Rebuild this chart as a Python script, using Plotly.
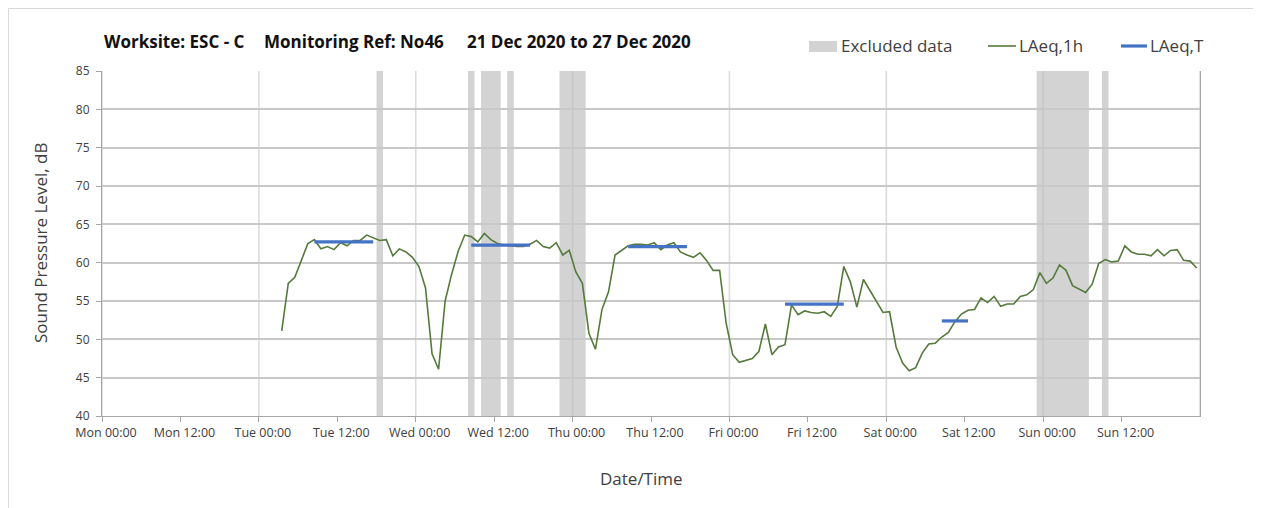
import pandas as pd
import plotly.graph_objects as go

# ---------------- data ----------------
laeq_1h_start = "2020-12-22 03:30"   # first hourly value (hour mid-points)
laeq_1h = [
    51.1, 57.3, 58.1, 60.3, 62.5, 63.0, 61.8, 62.1, 61.7, 62.6,
    62.2, 62.9, 62.9, 63.6, 63.3, 62.9, 63.0, 60.9, 61.8, 61.4,
    60.7, 59.5, 56.7, 48.1, 46.1, 55.0, 58.5, 61.5, 63.6, 63.4,
    62.7, 63.8, 63.0, 62.5, 62.3, 62.2, 62.1, 62.1, 62.4, 62.9,
    62.1, 61.9, 62.6, 61.0, 61.6, 58.8, 57.3, 50.8, 48.7, 53.9,
    56.2, 61.0, 61.6, 62.2, 62.4, 62.4, 62.3, 62.6, 61.7, 62.3,
    62.6, 61.4, 61.0, 60.7, 61.3, 60.3, 59.0, 59.0, 52.1, 48.0,
    47.0, 47.3, 47.5, 48.4, 52.0, 48.0, 49.0, 49.3, 54.5, 53.2,
    53.7, 53.5, 53.4, 53.6, 53.0, 54.3, 59.5, 57.5, 54.2, 57.8,
    56.4, 54.9, 53.5, 53.6, 49.0, 46.9, 45.9, 46.3, 48.2, 49.4,
    49.5, 50.3, 50.9, 52.3, 53.3, 53.8, 53.9, 55.4, 54.8, 55.6,
    54.3, 54.6, 54.6, 55.6, 55.8, 56.5, 58.7, 57.3, 58.0, 59.7,
    59.0, 57.0, 56.5, 56.1, 57.2, 59.9, 60.4, 60.1, 60.2, 62.2,
    61.4, 61.1, 61.1, 60.9, 61.7, 60.9, 61.6, 61.7, 60.3, 60.2,
    59.3,
]
laeq_1h_times = pd.date_range(laeq_1h_start, periods=len(laeq_1h), freq="h")

laeq_t_start = ["2020-12-22 08:30", "2020-12-23 08:30", "2020-12-24 08:30",
                "2020-12-25 08:30", "2020-12-26 08:30"]
laeq_t_end = ["2020-12-22 17:30", "2020-12-23 17:30", "2020-12-24 17:30",
              "2020-12-25 17:30", "2020-12-26 12:30"]
laeq_t_value = [62.7, 62.3, 62.1, 54.6, 52.4]

excluded_start = ["2020-12-22 18:00", "2020-12-23 08:00", "2020-12-23 10:00",
                  "2020-12-23 14:00", "2020-12-23 22:00", "2020-12-26 23:00",
                  "2020-12-27 09:00"]
excluded_end = ["2020-12-22 19:00", "2020-12-23 09:00", "2020-12-23 13:00",
                "2020-12-23 15:00", "2020-12-24 02:00", "2020-12-27 07:00",
                "2020-12-27 10:00"]

tick_values = pd.date_range("2020-12-21 00:00", "2020-12-27 12:00", freq="12h")
tick_labels = ["Mon 00:00", "Mon 12:00", "Tue 00:00", "Tue 12:00", "Wed 00:00",
               "Wed 12:00", "Thu 00:00", "Thu 12:00", "Fri 00:00", "Fri 12:00",
               "Sat 00:00", "Sat 12:00", "Sun 00:00", "Sun 12:00"]
day_lines = pd.date_range("2020-12-21", "2020-12-28", freq="D")

title_parts = ["Worksite: ESC - C", "Monitoring Ref: No46", "21 Dec 2020 to 27 Dec 2020"]

x_range = ["2020-12-21 00:00", "2020-12-28 00:00"]
y_range = [40, 85]

# ---------------- style ----------------
FONT = "Open Sans"
GREEN = "#557a3b"
BLUE = "#4472c4"
BAND = "#d3d3d3"
TXT = "#404040"

# page has an 8px body margin, so the figure is 8px smaller than the window
W, H = 1253, 500
L, R, T, B = 94, 61, 63, 92
PW, PH = W - L - R, H - T - B
OFF = 8


def px(xr):  # window pixel -> paper
    return (xr - OFF - L) / PW


def py(yr):
    return (H - B - (yr - OFF)) / PH


fig = go.Figure()

fig.add_trace(go.Scatter(
    x=laeq_1h_times, y=laeq_1h, mode="lines", name="LAeq,1h",
    line=dict(color=GREEN, width=1.6), showlegend=False))

seg_x, seg_y = [], []
for s, e, v in zip(laeq_t_start, laeq_t_end, laeq_t_value):
    seg_x += [s, e, None]
    seg_y += [v, v, None]
fig.add_trace(go.Scatter(
    x=seg_x, y=seg_y, mode="lines", name="LAeq,T",
    line=dict(color=BLUE, width=3.2), showlegend=False))

shapes = []
for s, e in zip(excluded_start, excluded_end):
    shapes.append(dict(type="rect", xref="x", yref="paper", x0=s, x1=e, y0=0, y1=1,
                       fillcolor=BAND, line=dict(width=0), layer="below"))
for d in day_lines:
    shapes.append(dict(type="line", xref="x", yref="paper", x0=d, x1=d, y0=0, y1=1,
                       line=dict(color="rgba(190,190,190,0.55)", width=1.6), layer="below"))

# legend (manual)
shapes.append(dict(type="rect", xref="paper", yref="paper",
                   x0=px(809), x1=px(837), y0=py(52), y1=py(41),
                   fillcolor=BAND, line=dict(width=0)))
shapes.append(dict(type="line", xref="paper", yref="paper",
                   x0=px(988), x1=px(1016), y0=py(46), y1=py(46),
                   line=dict(color=GREEN, width=1.6)))
shapes.append(dict(type="line", xref="paper", yref="paper",
                   x0=px(1121), x1=px(1147), y0=py(46), y1=py(46),
                   line=dict(color=BLUE, width=3.2)))
# outer chart border (top / left)
shapes.append(dict(type="line", xref="paper", yref="paper",
                   x0=px(8.5), x1=px(1262), y0=py(8.5), y1=py(8.5),
                   line=dict(color="#d9d9d9", width=1)))
shapes.append(dict(type="line", xref="paper", yref="paper",
                   x0=px(8.5), x1=px(8.5), y0=py(8.5), y1=py(509),
                   line=dict(color="#d9d9d9", width=1)))

annotations = []
for text, xp in zip(title_parts, [102, 261.5, 464.5]):
    annotations.append(dict(text="<b>" + text + "</b>", x=px(xp), y=py(41.5),
                            xref="paper", yref="paper", xanchor="left", yanchor="middle",
                            showarrow=False, font=dict(family=FONT, size=17, color="#111111")))

for text, xp in [("Excluded data", 839), ("LAeq,1h", 1017), ("LAeq,T", 1148)]:
    annotations.append(dict(text=text, x=px(xp), y=py(46), xref="paper", yref="paper",
                            xanchor="left", yanchor="middle", showarrow=False,
                            font=dict(family=FONT, size=17, color=TXT)))

annotations.append(dict(text="Sound Pressure Level, dB", x=px(40), y=py(243),
                        xref="paper", yref="paper", xanchor="center", yanchor="middle",
                        textangle=-90, showarrow=False,
                        font=dict(family=FONT, size=17, color=TXT)))
annotations.append(dict(text="Date/Time", x=px(641), y=py(478),
                        xref="paper", yref="paper", xanchor="center", yanchor="middle",
                        showarrow=False, font=dict(family=FONT, size=17, color=TXT)))

fig.update_layout(
    width=W, height=H,
    margin=dict(l=L, r=R, t=T, b=B, pad=0),
    paper_bgcolor="white", plot_bgcolor="white",
    showlegend=False,
    shapes=shapes, annotations=annotations,
    font=dict(family=FONT, color=TXT),
    xaxis=dict(type="date", range=x_range, tickmode="array",
               tickvals=list(tick_values), ticktext=tick_labels,
               showgrid=False, zeroline=False,
               showline=True, linecolor="#a6a6a6", linewidth=1.2,
               ticks="outside", ticklen=5, tickcolor="#a6a6a6", tickwidth=1,
               ticklabelshift=4,
               tickfont=dict(family=FONT, size=12.5, color=TXT)),
    yaxis=dict(range=y_range, tickmode="linear", tick0=40, dtick=5,
               showgrid=True, gridcolor="#c8c8c8", gridwidth=1.5, zeroline=False,
               showline=True, linecolor="#a6a6a6", linewidth=1.2, mirror=True,
               ticks="outside", ticklen=5, tickcolor="#a6a6a6", tickwidth=1,
               ticklabelstandoff=4,
               tickfont=dict(family=FONT, size=12, color=TXT)),
)

fig.write_html("out.html")
